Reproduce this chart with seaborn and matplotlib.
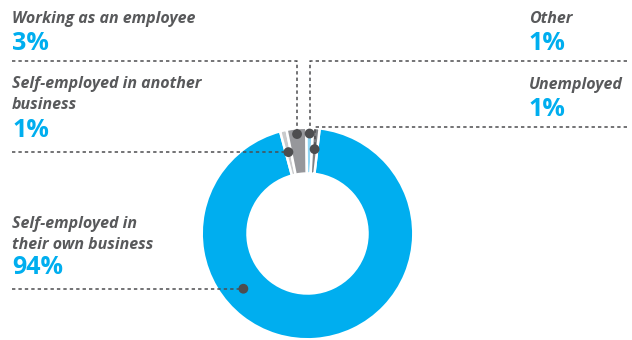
import numpy as np
import pandas as pd
import matplotlib
matplotlib.use("Agg")
import matplotlib.pyplot as plt
import seaborn as sns

# ---- data -------------------------------------------------------------
categories = [
    "Self-employed in their own business",
    "Self-employed in another business",
    "Working as an employee",
    "Other",
    "Unemployed",
]
shares = [94, 1, 3, 1, 1]
label_lines = [
    ["Self-employed in", "their own business"],
    ["Self-employed in another", "business"],
    ["Working as an employee"],
    ["Other"],
    ["Unemployed"],
]
slice_colors = ["#00AEEF", "#C9CACC", "#96979B", "#8FD6F5", "#7E8084"]

# ---- layout (pixel units, y measured from the top) ---------------------
W, H = 632, 340
CX, CY = 307.5, 233.5
R_OUT, R_IN = 105.8, 60.0
TEXT_GREY = "#58595B"
DOT_GREY = "#4D4D4F"
BLUE = "#00AEEF"

# label x, baselines of the text lines, baseline of the percentage
text_x = [12, 12, 12, 529, 529]
text_base = [[228.5, 249.3], [88.5, 109.2], [23.3], [23.3], [89.3]]
pct_base = [274.0, 137.0, 50.0, 50.0, 115.7]
# dot placement inside each wedge: fraction along the wedge and radius fraction
dot_frac = [0.658, 0.5, 0.5, 0.5, 0.5]
dot_rad = [0.80, 0.79, 0.945, 0.945, 0.80]
# connector: (start x, elbow y or None for a straight horizontal run)
conn_start_x = [12, 12, 12, 627, 627]
conn_elbow_y = [None, None, 60.5, 60.5, 127.0]


def fy(y):
    return H - y


sns.set_theme(style="white")
plt.rcParams["font.family"] = ["Open Sans", "DejaVu Sans"]

fig = plt.figure(figsize=(W / 100, H / 100), dpi=100)
ax = fig.add_axes([0, 0, 1, 1])

wedges, _ = ax.pie(
    shares,
    colors=slice_colors,
    startangle=83.4,
    counterclock=False,
    radius=R_OUT,
    center=(CX, fy(CY)),
    wedgeprops=dict(width=R_OUT - R_IN, edgecolor="white", linewidth=1.8),
)
ax.set_xlim(0, W)
ax.set_ylim(0, H)
ax.set_aspect("equal")
ax.axis("off")

# dot positions derived from the wedge angles (clockwise pie: start at theta2)
dots = []
for w, frac, rf in zip(wedges, dot_frac, dot_rad):
    ang = np.deg2rad(w.theta2 - frac * (w.theta2 - w.theta1))
    r = rf * R_OUT
    dots.append((CX + r * np.cos(ang), fy(CY) + r * np.sin(ang)))
dot_df = pd.DataFrame(dots, columns=["x", "y"])
dot_df["category"] = categories

# dotted connectors
for (dx, dy), sx, ey in zip(dots, conn_start_x, conn_elbow_y):
    if ey is None:
        xs, ys = [sx, dx], [dy, dy]
    else:
        xs, ys = [sx, dx, dx], [fy(ey), fy(ey), dy]
    ax.plot(xs, ys, color=DOT_GREY, lw=1.1, ls=(0, (2.2, 2.0)),
            solid_capstyle="butt", zorder=3)

sns.scatterplot(data=dot_df, x="x", y="y", ax=ax, color=DOT_GREY, s=50,
                edgecolor="none", zorder=4, legend=False)
ax.set_xlabel("")
ax.set_ylabel("")
ax.set_xlim(0, W)
ax.set_ylim(0, H)

# labels and percentages
for lines, x, bases, pb, v in zip(label_lines, text_x, text_base, pct_base, shares):
    for line, b in zip(lines, bases):
        ax.text(x, fy(b), line, fontsize=11.5, fontweight="bold", fontstyle="italic",
                color=TEXT_GREY, ha="left", va="baseline")
    ax.text(x, fy(pb), f"{v}%", fontsize=18, fontweight="bold",
            color=BLUE, ha="left", va="baseline")

fig.savefig("out.png", dpi=100)
